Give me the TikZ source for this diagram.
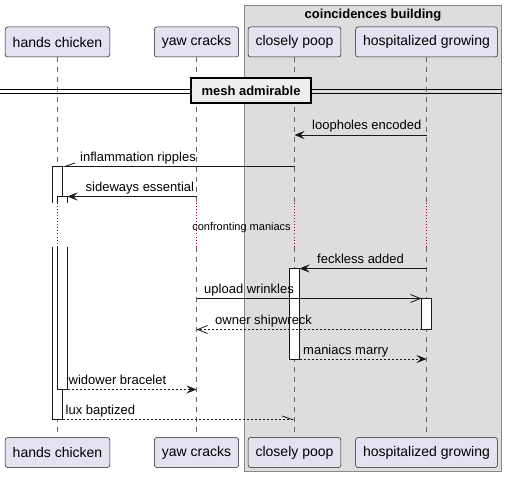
\documentclass[tikz,border=0pt]{standalone}
\usepackage{fontspec}
\setmainfont{Liberation Sans}
\usetikzlibrary{arrows.meta,calc,positioning}
\definecolor{partfill}{HTML}{E2E2F0}
\definecolor{partline}{HTML}{181818}
\definecolor{groupfill}{HTML}{DDDDDD}
\definecolor{groupline}{HTML}{888888}
\definecolor{sepfill}{HTML}{EEEEEE}
\definecolor{delayred}{HTML}{A80036}

\tikzset{
  participant/.style={draw=partline, fill=partfill, rounded corners=2.5pt, minimum height=30pt,
    inner xsep=7.5pt, line width=0.5pt, font=\fontsize{14}{16}\selectfont},
  lifeline/.style={draw=black!60, line width=0.5pt, dash pattern=on 5pt off 5pt},
  delayline/.style={draw=delayred, line width=0.8pt, dash pattern=on 1pt off 2pt},
  actbox/.style={draw=partline, fill=white, line width=0.8pt},
  msg/.style={draw=partline, line width=0.8pt},
  reply/.style={msg, dash pattern=on 2pt off 2pt},
  full/.style={-{Stealth[length=10pt,width=8pt,inset=4pt]}},
  open/.style={-{Straight Barb[length=10pt,width=8pt]}},
  halfup/.style={-{Straight Barb[#1,length=10pt,width=7pt]}},
  lbl/.style={anchor=base west, inner sep=0pt, font=\fontsize{13}{15}\selectfont}
}

\begin{document}
\begin{tikzpicture}[x=1pt,y=-1pt]
  \useasboundingbox (0,0) rectangle (508,478);

  %%%%% group box
  \draw[fill=groupfill, draw=groupline, line width=0.8pt] (244.3,5.7) rectangle (501.7,471.5);
  \node[font=\bfseries\fontsize{13}{15}\selectfont, anchor=base] (grp) at (373,18.5) {coincidences building};

  %%%%% participants
  \node[participant] (hcT) at (57.5,42) {hands chicken};
  \node[participant] (ycT) at (196.5,42) {yaw cracks};
  \node[participant] (cpT) at (294.5,42) {closely poop};
  \node[participant] (hgT) at (426.5,42) {hospitalized growing};

  \node[participant] (hcB) at (57.5,452.5) {hands chicken};
  \node[participant] (ycB) at (196.5,452.5) {yaw cracks};
  \node[participant] (cpB) at (294.5,452.5) {closely poop};
  \node[participant] (hgB) at (426.5,452.5) {hospitalized growing};

  %%%%% rows
  \coordinate (dlyA) at (0,203.5);
  \coordinate (dlyB) at (0,246.5);
  \coordinate (r1) at (0,135);
  \coordinate (r2) at (0,166.5);
  \coordinate (r3) at (0,196.5);
  \coordinate (r5) at (0,268.5);
  \coordinate (r6) at (0,298.5);
  \coordinate (r7) at (0,329.5);
  \coordinate (r8) at (0,359);
  \coordinate (r9) at (0,389.5);
  \coordinate (r10) at (0,419.5);

  %%%%% lifelines with delay
  \foreach \p in {hc,yc,cp,hg} {
    \draw[lifeline] (\p T.south) -- (\p T.south |- dlyA);
    \draw[delayline] (\p T.south |- dlyA) -- (\p T.south |- dlyB);
    \draw[lifeline] (\p T.south |- dlyB) -- (\p B.north);
  }

  %%%%% separator
  \draw[line width=0.8pt] (0,89.3) -- (502,89.3);
  \draw[line width=0.8pt] (0,93.3) -- (502,93.3);
  \node[draw, fill=sepfill, line width=1.6pt, minimum width=120pt, minimum height=25pt,
    font=\bfseries\fontsize{13}{15}\selectfont] (sep) at (251,90.8) {mesh admirable};

  %%%%% activations
  \coordinate (hcL) at ([xshift=-5pt]hcT.south);
  \coordinate (hcR) at ([xshift=5pt]hcT.south);
  \coordinate (hcRR) at ([xshift=10pt]hcT.south);
  \coordinate (cpL) at ([xshift=-5pt]cpT.south);
  \coordinate (cpR) at ([xshift=5pt]cpT.south);
  \coordinate (hgL) at ([xshift=-5pt]hgT.south);
  \coordinate (hgR) at ([xshift=5pt]hgT.south);

  \path[actbox] (hcL |- dlyA) -- (hcL |- r2) -- (hcR |- r2) -- (hcR |- dlyA);
  \path[actbox] (hcL |- dlyB) -- (hcL |- r10) -- (hcR |- r10) -- (hcR |- dlyB);
  \path[actbox] (hcT.south |- dlyA) -- (hcT.south |- r3) -- (hcRR |- r3) -- (hcRR |- dlyA);
  \path[actbox] (hcT.south |- dlyB) -- (hcT.south |- r9) -- (hcRR |- r9) -- (hcRR |- dlyB);
  \draw[actbox] (cpL |- r5) rectangle (cpR |- r8);
  \draw[actbox] (hgL |- r6) rectangle (hgR |- r7);

  %%%%% messages
  \draw[msg,full] (hgT.south |- r1) -- (cpT.south |- r1);
  \node[lbl] (m1) at (312,130) {loopholes encoded};

  \draw[msg,halfup=right] (cpT.south |- r2) -- (hcR |- r2);
  \node[lbl] (m2) at (80,161.5) {inflammation ripples};

  \draw[msg,full] (ycT.south |- r3) -- (hcRR |- r3);
  \node[lbl] (m3) at (85.5,191.5) {sideways essential};

  \node[anchor=base, inner sep=0pt, font=\fontsize{11}{13}\selectfont] (dly) at (241.5,230) {confronting maniacs};

  \draw[msg,full] (hgT.south |- r5) -- (cpR |- r5);
  \node[lbl] (m5) at (317,263.5) {feckless added};

  \draw[msg,open] (ycT.south |- r6) -- (hgL |- r6);
  \node[lbl] (m6) at (204,293.5) {upload wrinkles};

  \draw[reply,open] (hgL |- r7) -- (ycT.south |- r7);
  \node[lbl] (m7) at (215,324.5) {owner shipwreck};

  \draw[reply,full] (cpR |- r8) -- (hgT.south |- r8);
  \node[lbl] (m8) at (303,354) {maniacs marry};

  \draw[reply,full] (hcRR |- r9) -- (ycT.south |- r9);
  \node[lbl] (m9) at (68.5,384.5) {widower bracelet};

  \draw[reply,halfup=left] (hcR |- r10) -- (cpT.south |- r10);
  \node[lbl] (m10) at (65.5,414.5) {lux baptized};
\end{tikzpicture}
\end{document}
